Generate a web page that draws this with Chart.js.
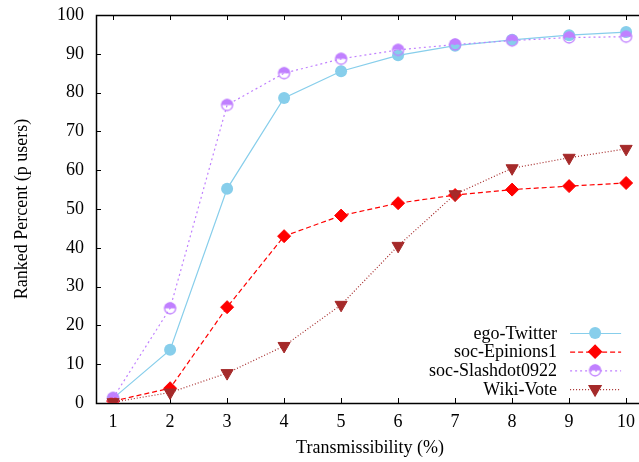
<!DOCTYPE html>
<html><head><meta charset="utf-8">
<script src="https://cdn.jsdelivr.net/npm/chart.js@4/dist/chart.umd.min.js"></script>
<style>html,body{margin:0;padding:0;background:#fff;overflow:hidden;}#wrap{width:639px;height:462px;position:relative;overflow:hidden;}</style>
</head><body><div id="wrap"><canvas id="c" width="644" height="462"></canvas></div>
<script>
// ---- data ----
const xValues = [1, 2, 3, 4, 5, 6, 7, 8, 9, 10];
const egoTwitter = [1.2, 13.7, 55.2, 78.6, 85.5, 89.6, 92.1, 93.6, 94.8, 95.6];
const socEpinions = [0.5, 3.8, 24.7, 43.0, 48.3, 51.5, 53.6, 55.0, 55.9, 56.7];
const socSlashdot = [1.3, 24.4, 76.8, 85.0, 88.7, 91.0, 92.4, 93.4, 94.2, 94.4];
const wikiVote = [0.2, 2.7, 7.7, 14.7, 25.3, 40.5, 53.8, 60.5, 63.2, 65.5];
const seriesNames = ['ego-Twitter', 'soc-Epinions1', 'soc-Slashdot0922', 'Wiki-Vote'];
const xTicks = [1, 2, 3, 4, 5, 6, 7, 8, 9, 10];
const yTicks = [0, 10, 20, 30, 40, 50, 60, 70, 80, 90, 100];
const xTitle = 'Transmissibility (%)';
const yTitle = 'Ranked Percent (p users)';

const FONT = '"Liberation Serif", "Times New Roman", serif';
Chart.defaults.font.family = FONT;
Chart.defaults.font.size = 18;
Chart.defaults.color = '#000';

function halfCircle(color, r) {
  const s = 2 * r + 3;
  const c = document.createElement('canvas');
  c.width = s; c.height = s;
  const g = c.getContext('2d');
  const cx = s / 2, cy = s / 2;
  g.beginPath(); g.arc(cx, cy, r, Math.PI, 0); g.closePath();
  g.fillStyle = color; g.fill();
  g.beginPath(); g.arc(cx, cy, r - 0.5, 0, 2 * Math.PI);
  g.strokeStyle = color; g.lineWidth = 1.3; g.stroke();
  return c;
}
const slashImg = halfCircle('#c080ff', 6);

const toPts = arr => xValues.map((x, i) => ({x: x, y: arr[i]}));

const datasets = [
  {label: seriesNames[0], data: toPts(egoTwitter), borderColor: '#87ceeb', backgroundColor: '#87ceeb',
   borderWidth: 1.2, borderDash: [], pointStyle: 'circle', pointRadius: 6, pointBorderWidth: 0,
   pointBackgroundColor: '#87ceeb', pointBorderColor: '#87ceeb', order: 3},
  {label: seriesNames[1], data: toPts(socEpinions), borderColor: '#ff0000', backgroundColor: '#ff0000',
   borderWidth: 1.2, borderDash: [5, 3], pointStyle: 'rectRot', pointRadius: 6.5, pointBorderWidth: 1,
   pointBackgroundColor: '#ff0000', pointBorderColor: '#ff0000', order: 2},
  {label: seriesNames[2], data: toPts(socSlashdot), borderColor: '#c080ff', backgroundColor: '#c080ff',
   borderWidth: 1.2, borderDash: [2, 3], pointStyle: slashImg, pointRadius: 6, pointBorderWidth: 0,
   pointBackgroundColor: '#c080ff', pointBorderColor: '#c080ff', order: 1},
  {label: seriesNames[3], data: toPts(wikiVote), borderColor: '#a52a2a', backgroundColor: '#a52a2a',
   borderWidth: 1.2, borderDash: [1, 2], pointStyle: 'triangle', pointRotation: 180, pointRadius: 7, pointBorderWidth: 1,
   pointBackgroundColor: '#a52a2a', pointBorderColor: '#a52a2a', order: 0}
];

const framePlugin = {
  id: 'frame',
  beforeDatasetsDraw(chart) {
    const {ctx, chartArea: a, scales} = chart;
    ctx.save();
    ctx.strokeStyle = '#000';
    ctx.lineWidth = 1;
    ctx.beginPath();
    xTicks.forEach(v => {
      const px = Math.round(scales.x.getPixelForValue(v)) + 0.5;
      ctx.moveTo(px, a.bottom); ctx.lineTo(px, a.bottom - 5);
      ctx.moveTo(px, a.top); ctx.lineTo(px, a.top + 5);
    });
    yTicks.forEach(v => {
      const py = Math.round(scales.y.getPixelForValue(v)) + 0.5;
      ctx.moveTo(a.left, py); ctx.lineTo(a.left + 5, py);
      ctx.moveTo(a.right, py); ctx.lineTo(a.right - 5, py);
    });
    ctx.stroke();
    ctx.lineWidth = 1.5;
    ctx.strokeRect(Math.round(a.left) + 0.5, Math.round(a.top) + 0.5, a.right - a.left, a.bottom - a.top);
    ctx.restore();
  }
};

const legendPlugin = {
  id: 'keyBox',
  afterDatasetsDraw(chart) {
    const {ctx} = chart;
    const a = chart.chartArea;
    const anchor = chart.scales.x.getPixelForValue(xTicks[xTicks.length - 1]);
    ctx.save();
    ctx.font = '18px ' + FONT;
    ctx.textAlign = 'right';
    ctx.textBaseline = 'middle';
    chart.data.datasets.forEach((ds, i) => {
      const y = a.bottom - 70 + i * 18.7;
      const tx = anchor - 69;
      ctx.fillStyle = '#000';
      ctx.fillText(ds.label, tx, y + 1);
      ctx.strokeStyle = ds.borderColor;
      ctx.lineWidth = ds.borderWidth;
      ctx.setLineDash(ds.borderDash);
      ctx.beginPath(); ctx.moveTo(tx + 13, y + 0.5); ctx.lineTo(tx + 64, y + 0.5); ctx.stroke();
      ctx.setLineDash([]);
      ctx.fillStyle = ds.pointBackgroundColor;
      ctx.strokeStyle = ds.pointBorderColor;
      Chart.helpers.drawPoint(ctx, {pointStyle: ds.pointStyle, rotation: ds.pointRotation || 0,
        radius: ds.pointRadius, borderWidth: ds.pointBorderWidth}, tx + 38, y);
    });
    ctx.restore();
  }
};

const zeroPad = s => { s.paddingLeft = 0; s.paddingRight = 0; s.paddingTop = 0; s.paddingBottom = 0; };

new Chart(document.getElementById('c'), {
  type: 'line',
  data: {datasets: datasets},
  options: {
    responsive: false,
    animation: false,
    devicePixelRatio: 1,
    layout: {autoPadding: false, padding: {top: 15, right: 0, left: 0, bottom: 0}},
    plugins: {legend: {display: false}, tooltip: {enabled: false}},
    scales: {
      x: {
        type: 'linear', min: 0.7, max: 10.314,
        grid: {display: false, drawTicks: false},
        border: {display: false},
        afterBuildTicks: s => { s.ticks = xTicks.map(v => ({value: v})); },
        afterFit: s => { s.height = 59; zeroPad(s); },
        ticks: {padding: 8, autoSkip: false, maxRotation: 0, font: {size: 18}},
        title: {display: true, text: xTitle, font: {size: 18}, padding: {top: 0, bottom: 3}}
      },
      y: {
        type: 'linear', min: 0, max: 100,
        grid: {display: false, drawTicks: false},
        border: {display: false},
        afterBuildTicks: s => { s.ticks = yTicks.map(v => ({value: v})); },
        afterFit: s => { s.width = 96; zeroPad(s); },
        ticks: {padding: 12, font: {size: 18}},
        title: {display: true, text: yTitle, font: {size: 18}, padding: {top: 11, bottom: 0}}
      }
    }
  },
  plugins: [framePlugin, legendPlugin]
});
</script></body></html>
